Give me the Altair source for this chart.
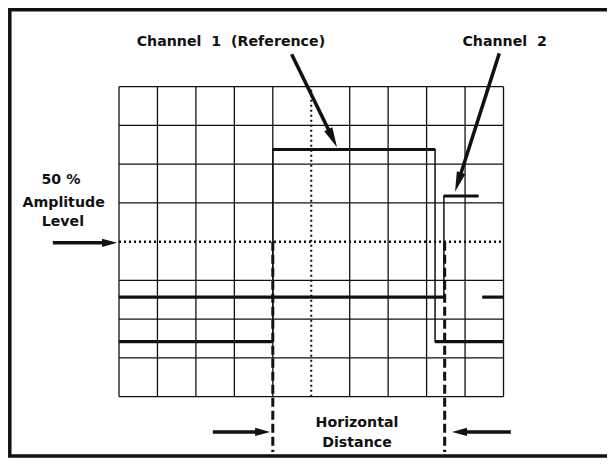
import math
import altair as alt
import pandas as pd

# ---------------- data (oscilloscope graticule, in divisions) ----------------
grid_x = [0, 1, 2, 3, 4, 5, 6, 7, 8, 9, 10]
grid_y = [0, 1, 2, 3, 4, 5, 6, 7, 8]
center_x = 5
center_y = 4  # 50 % amplitude level

# Channel 1 (reference) trace breakpoints
ch1_x = [0.0, 4.0, 4.0, 8.22, 8.22, 10.0]
ch1_y = [1.42, 1.42, 6.38, 6.38, 1.42, 1.42]
# Channel 2 trace breakpoints
ch2_x = [0.0, 8.45, 8.45, 9.35]
ch2_y = [2.57, 2.57, 5.18, 5.18]
ch2b_x = [9.45, 10.0]
ch2b_y = [2.57, 2.57]

# dashed "horizontal distance" markers
marker_x = [4.0, 8.47]
marker_top = 4.0
marker_bottom = -1.43

NB = "\u00a0"
label_text = [f"Channel{NB}{NB}1{NB}{NB}(Reference)", f"Channel{NB}{NB}2", f"50{NB}%", "Amplitude",
              "Level", "Horizontal", "Distance"]
label_x = [2.91, 10.03, -1.51, -1.44, -1.46, 6.19, 6.19]
label_y = [9.16, 9.16, 5.59, 5.01, 4.52, -0.68, -1.19]

arrow_x0 = [4.49, 9.89, -1.72, 2.44, 10.19]
arrow_y0 = [8.84, 8.86, 3.97, -0.91, -0.91]
arrow_x1 = [5.67, 8.74, -0.05, 3.93, 8.66]
arrow_y1 = [6.44, 5.29, 3.97, -0.91, -0.91]
arrow_kind = ["long", "long", "short", "short", "short"]

# ---------------- layout ----------------
W, H = 599, 450
PX_X, PX_Y = 38.45, 38.75
GRID_LEFT, GRID_BOTTOM = 111.0, 388.7
x_dom = [-GRID_LEFT / PX_X, (W - GRID_LEFT) / PX_X]
y_dom = [-(H - GRID_BOTTOM) / PX_Y, GRID_BOTTOM / PX_Y]
xs = alt.Scale(domain=x_dom, nice=False, zero=False)
ys = alt.Scale(domain=y_dom, nice=False, zero=False)
HEAD_LEN = {"long": 20.0, "short": 15.0}
HEAD_PATH = {"long": "M0,0L0.45,2L-0.45,2Z", "short": "M0,0L0.55,2L-0.55,2Z"}
INK = "#111111"


def X(f):
    return alt.X(f"{f}:Q", scale=xs, axis=None)


def Y(f):
    return alt.Y(f"{f}:Q", scale=ys, axis=None)


# graticule
gx = pd.DataFrame({"x": [v for v in grid_x if v != center_x], "y0": grid_y[0], "y1": grid_y[-1]})
gy = pd.DataFrame({"y": [v for v in grid_y if v != center_y], "x0": grid_x[0], "x1": grid_x[-1]})
grid_v = alt.Chart(gx).mark_rule(color=INK, strokeWidth=1.3).encode(x=X("x"), y=Y("y0"), y2="y1:Q")
grid_h = alt.Chart(gy).mark_rule(color=INK, strokeWidth=1.3).encode(y=Y("y"), x=X("x0"), x2="x1:Q")
cv = pd.DataFrame({"x": [center_x], "y0": grid_y[0], "y1": grid_y[-1]})
ch = pd.DataFrame({"y": [center_y], "x0": grid_x[0], "x1": grid_x[-1]})
center_v = alt.Chart(cv).mark_rule(color=INK, strokeWidth=2, strokeDash=[2, 3]).encode(
    x=X("x"), y=Y("y0"), y2="y1:Q")
center_h = alt.Chart(ch).mark_rule(color=INK, strokeWidth=2.4, strokeDash=[2, 3]).encode(
    y=Y("y"), x=X("x0"), x2="x1:Q")

# traces
rows = []
for name, tx, ty in [("ch1", ch1_x, ch1_y), ("ch2", ch2_x, ch2_y), ("ch2b", ch2b_x, ch2b_y)]:
    for i, (a, b) in enumerate(zip(tx, ty)):
        rows.append({"series": name, "i": i, "x": a, "y": b})
tr = pd.DataFrame(rows)
edges = alt.Chart(tr).mark_line(color=INK, strokeWidth=1.5).encode(
    x=X("x"), y=Y("y"), detail="series:N", order="i:Q")
segs = []
for tx, ty in [(ch1_x, ch1_y), (ch2_x, ch2_y), (ch2b_x, ch2b_y)]:
    for k in range(len(tx) - 1):
        if ty[k] == ty[k + 1]:
            segs.append({"x0": tx[k], "x1": tx[k + 1], "y": ty[k]})
levels = alt.Chart(pd.DataFrame(segs)).mark_rule(color=INK, strokeWidth=3.2).encode(
    y=Y("y"), x=X("x0"), x2="x1:Q")

# dashed markers
mk = pd.DataFrame({"x": marker_x, "y0": marker_top, "y1": marker_bottom})
markers = alt.Chart(mk).mark_rule(color=INK, strokeWidth=3, strokeDash=[9, 4]).encode(
    x=X("x"), y=Y("y0"), y2="y1:Q")

# arrows
arows = []
for x0, y0, x1, y1, kind in zip(arrow_x0, arrow_y0, arrow_x1, arrow_y1, arrow_kind):
    dxp = (x1 - x0) * PX_X
    dyp = -(y1 - y0) * PX_Y
    L = math.hypot(dxp, dyp)
    ux, uy = dxp / L, dyp / L
    d = HEAD_LEN[kind] * 0.6
    arows.append({
        "x0": x0, "y0": y0, "x1": x1, "y1": y1, "kind": kind,
        "xe": x1 - ux * d / PX_X, "ye": y1 + uy * d / PX_Y,
        "angle": math.degrees(math.atan2(dxp, -dyp)) % 360,
    })
ad = pd.DataFrame(arows)
shafts = alt.Chart(ad).mark_rule(color=INK, strokeWidth=3.5).encode(
    x=X("x0"), y=Y("y0"), x2="xe:Q", y2="ye:Q")
heads = [
    alt.Chart(ad[ad["kind"] == k]).mark_point(
        shape=HEAD_PATH[k], size=HEAD_LEN[k] ** 2, filled=True, color=INK, opacity=1, strokeWidth=0
    ).encode(x=X("x1"), y=Y("y1"), angle=alt.Angle("angle:Q", scale=None))
    for k in ["long", "short"]
]

# labels
lab = pd.DataFrame({"t": label_text, "x": label_x, "y": label_y})
labels = alt.Chart(lab).mark_text(
    font="DejaVu Sans", fontWeight="bold", fontSize=14.2, color=INK, align="center", baseline="middle"
).encode(x=X("x"), y=Y("y"), text="t:N")

# white cover for the right edge of the view outline (the frame continues off the picture)
one = pd.DataFrame({"a": [0]})
cover_r = alt.Chart(one).mark_rule(color="white", strokeWidth=5).encode(
    x=alt.value(W - 1), y=alt.value(0), y2=alt.value(H))

# frame: an open box whose right side lies beyond the picture
frame = alt.Chart(one).mark_rect(
    fill="transparent", stroke=INK, strokeWidth=3.5, clip=False
).encode(x=alt.value(1.8), x2=alt.value(W + 40), y=alt.value(1.8), y2=alt.value(H - 2))

chart = alt.layer(
    grid_v, grid_h, center_v, center_h, edges, levels, markers, shafts, *heads, labels,
    cover_r, frame,
).properties(
    width=W, height=H, autosize=alt.AutoSizeParams(type="none"), padding=0, background="white",
    view=alt.ViewBackground(stroke="transparent", strokeWidth=0, fill="white"),
).configure_view(stroke="transparent", strokeWidth=0, strokeOpacity=0)

chart.save("out.html", embed_options={"renderer": "svg", "actions": False})
